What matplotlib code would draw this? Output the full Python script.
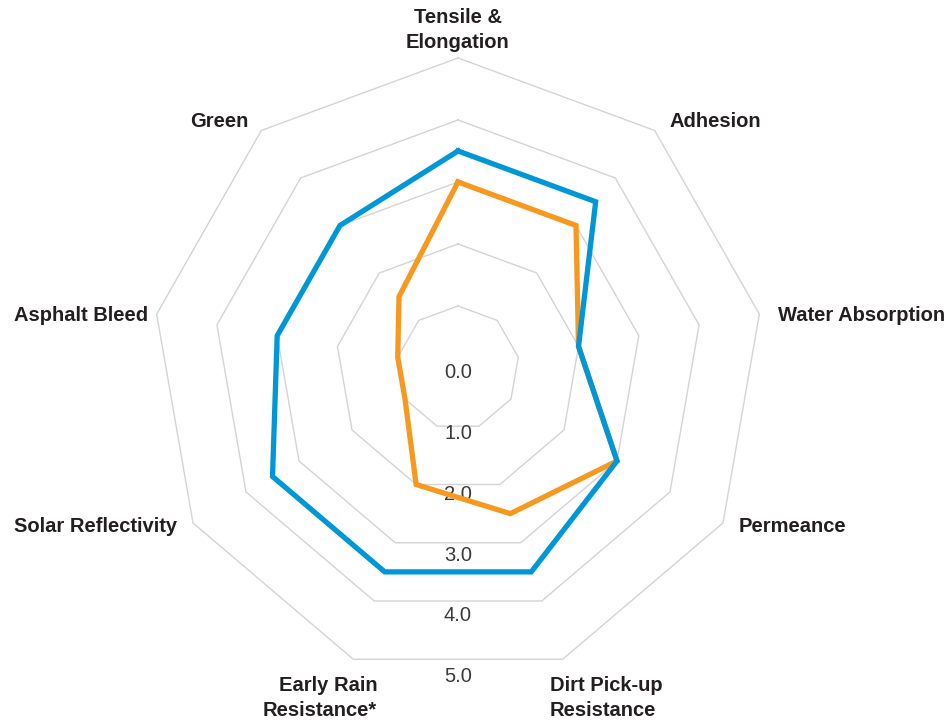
import numpy as np
import matplotlib.pyplot as plt

categories = ["Tensile &\nElongation", "Adhesion", "Water Absorption", "Permeance",
              "Dirt Pick-up\nResistance", "Early Rain\nResistance*", "Solar Reflectivity",
              "Asphalt Bleed", "Green"]
blue_values = [3.5, 3.5, 2.0, 3.0, 3.5, 3.5, 3.5, 3.0, 3.0]
orange_values = [3.0, 3.0, 2.0, 3.0, 2.5, 2.0, 1.0, 1.0, 1.5]
ring_levels = [1, 2, 3, 4, 5]
tick_labels = ["0.0", "1.0", "2.0", "3.0", "4.0", "5.0"]

# where each category label sits (x, y, alignment)
label_layout = [(0, 5.45, "center"), (3.46, 3.98, "left"), (5.23, 0.84, "left"),
                (4.59, -2.56, "left"), (1.5, -5.32, "left"), (-1.32, -5.32, "right"),
                (-4.59, -2.56, "right"), (-5.07, 0.84, "right"), (-3.42, 3.98, "right")]

n = len(categories)
angles = np.pi / 2 - np.arange(n) * 2 * np.pi / n

fig = plt.figure(figsize=(9.51, 7.21), dpi=100)
ax = fig.add_axes([0, 0, 1, 1])
ax.set_xlim(-7.484, 8.056)
ax.set_ylim(-5.694, 5.935)
ax.axis("off")

# polygon grid
for lvl in ring_levels:
    xs = lvl * np.cos(np.append(angles, angles[0]))
    ys = lvl * np.sin(np.append(angles, angles[0]))
    ax.plot(xs, ys, color="#d4d4d4", lw=1.0, zorder=1)

# tick labels below the centre
for i, t in enumerate(tick_labels):
    ax.text(0, -(0.08 + 0.98 * i), t, ha="center", va="center", fontsize=14.5,
            color="#3a3a3a", family="Liberation Sans", zorder=2)


def series(vals, color, z):
    v = np.append(vals, vals[0])
    a = np.append(angles, angles[0])
    ax.plot(v * np.cos(a), v * np.sin(a), color=color, lw=3.8,
            solid_joinstyle="miter", zorder=z)


series(orange_values, "#f7981f", 3)
series(blue_values, "#0097d7", 4)

# axis labels
for lab, (x, y, ha) in zip(categories, label_layout):
    ax.text(x, y, lab, ha=ha, va="center", fontsize=14.5, color="#231f20",
            family="Liberation Sans", fontweight="bold", linespacing=1.4)

fig.savefig("out.png", dpi=100, facecolor="white")
